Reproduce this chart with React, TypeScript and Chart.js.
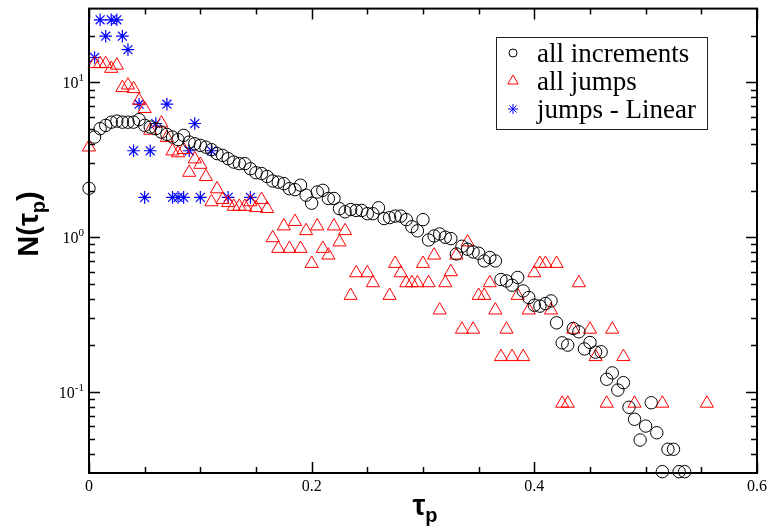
import React, { useEffect, useRef } from 'react';
import { Chart, registerables } from 'chart.js';

Chart.register(...registerables);

// ---------- axis settings ----------
const X_MIN = 0;
const X_MAX = 0.6;
const Y_MIN = 0.03;
const Y_MAX = 30;
const xMajorTicks = [0, 0.2, 0.4, 0.6];
const xTickLabels = ['0', '0.2', '0.4', '0.6'];
const xMinorTicks = [0.05, 0.1, 0.15, 0.25, 0.3, 0.35, 0.45, 0.5, 0.55];
const yMajorTicks = [0.1, 1, 10];
const yTickExponents = ['-1', '0', '1'];
const yMinorTicks = [
  0.04, 0.05, 0.06, 0.07, 0.08, 0.09,
  0.2, 0.3, 0.4, 0.5, 0.6, 0.7, 0.8, 0.9,
  2, 3, 4, 5, 6, 7, 8, 9, 20,
];

// ---------- series labels ----------
const seriesLabels = ['all increments', 'all jumps', 'jumps - Linear'];

// ---------- all increments (circles) ----------
const incX = [
  0, 0.005, 0.01, 0.015, 0.02, 0.025, 0.03, 0.035, 0.04, 0.045,
  0.05, 0.055, 0.06, 0.065, 0.07, 0.075, 0.08, 0.085, 0.09, 0.095,
  0.1, 0.105, 0.11, 0.115, 0.12, 0.125, 0.13, 0.135, 0.14, 0.145,
  0.15, 0.155, 0.16, 0.165, 0.17, 0.175, 0.18, 0.185, 0.19, 0.195,
  0.2, 0.205, 0.21, 0.215, 0.22, 0.225, 0.23, 0.235, 0.24, 0.245,
  0.25, 0.255, 0.26, 0.265, 0.27, 0.275, 0.28, 0.285, 0.29, 0.295,
  0.3, 0.305, 0.31, 0.315, 0.32, 0.325, 0.33, 0.335, 0.34, 0.345,
  0.35, 0.355, 0.36, 0.365, 0.37, 0.375, 0.38, 0.385, 0.39, 0.395,
  0.4, 0.405, 0.41, 0.415, 0.42, 0.425, 0.43, 0.435, 0.44, 0.445,
  0.45, 0.455, 0.46, 0.465, 0.47, 0.475, 0.48, 0.485, 0.49, 0.495,
  0.5, 0.505, 0.51, 0.515, 0.52, 0.525, 0.53, 0.535,
];
const incY = [
  2.07, 4.44, 5.03, 5.28, 5.54, 5.63, 5.54, 5.54, 5.54, 5.75,
  5.28, 5.15, 5.03, 4.78, 4.62, 4.44, 4.27, 4.55, 4.12, 4.02,
  3.92, 3.82, 3.68, 3.47, 3.38, 3.22, 3.06, 2.99, 2.99, 2.77,
  2.61, 2.58, 2.47, 2.31, 2.27, 2.22, 2.06, 2.03, 2.17, 1.87,
  1.66, 1.96, 2.01, 1.78, 1.78, 1.53, 1.46, 1.51, 1.49, 1.49,
  1.42, 1.42, 1.55, 1.32, 1.34, 1.37, 1.37, 1.3, 1.17, 1.1,
  1.3, 0.96, 1.02, 1.05, 1.0, 0.98, 0.78, 0.875, 0.837, 0.804,
  0.788, 0.703, 0.74, 0.703, 0.533, 0.522, 0.49, 0.55, 0.45, 0.408,
  0.364, 0.359, 0.373, 0.388, 0.28, 0.208, 0.201, 0.2575, 0.245, 0.19,
  0.209, 0.181, 0.182, 0.121, 0.133, 0.103, 0.115, 0.0797, 0.0667, 0.049,
  0.0603, 0.0853, 0.0546, 0.0306, 0.0427, 0.0427, 0.0306, 0.0306,
];

// ---------- all jumps (triangles) ----------
const jumpX = [
  0, 0.005, 0.01, 0.015, 0.02, 0.025, 0.03, 0.035, 0.04, 0.045, 0.05, 0.055,
  0.065, 0.07, 0.075, 0.08, 0.085, 0.09, 0.095, 0.1, 0.105, 0.11, 0.115, 0.12,
  0.125, 0.13, 0.135, 0.14, 0.145, 0.15, 0.155, 0.16, 0.165, 0.17, 0.175, 0.18,
  0.185, 0.19, 0.195, 0.2, 0.205, 0.21, 0.215, 0.22, 0.225, 0.23, 0.235, 0.24,
  0.25, 0.255,
  0.27, 0.275, 0.28, 0.285, 0.29, 0.295, 0.3, 0.305, 0.31, 0.315, 0.32, 0.325,
  0.33, 0.335, 0.34, 0.345, 0.35, 0.355, 0.36, 0.365, 0.37, 0.375, 0.38, 0.385,
  0.39, 0.395, 0.4, 0.405, 0.41, 0.415, 0.42, 0.425, 0.43, 0.435, 0.44,
  0.45, 0.455, 0.465, 0.47, 0.48, 0.49, 0.515, 0.555,
];
const jumpY = [
  3.82, 13.2, 13.2, 13.2, 12.3, 12.9, 9.24, 9.6, 9.1, 7.65, 6.77, 4.9,
  5.46, 4.4, 3.6, 3.5, 3.68, 2.62, 3.2, 2.95, 2.46, 1.69, 2.05, 1.75,
  1.67, 1.58, 1.58, 1.58, 1.69, 1.55, 1.75, 1.53, 0.99, 0.845, 1.18, 0.845,
  1.26, 0.845, 1.1, 0.676, 1.18, 0.845, 0.765, 1.18, 0.93, 1.1, 0.42, 0.588,
  0.588, 0.507,
  0.42, 0.676, 0.588, 0.507, 0.507, 0.507, 0.676, 0.507, 0.765, 0.338, 0.507, 0.597,
  0.765, 0.254, 0.93, 0.254, 0.42, 0.42, 0.507, 0.338, 0.169, 0.254, 0.169, 0.42,
  0.169, 0.338, 0.588, 0.676, 0.676, 0.338, 0.676, 0.0845, 0.0845, 0.254, 0.507,
  0.254, 0.169, 0.0845, 0.254, 0.169, 0.0845, 0.0845, 0.0845,
];

// ---------- jumps - Linear (stars) ----------
const linX = [
  0.005, 0.01, 0.015, 0.02, 0.025, 0.03, 0.035, 0.04, 0.045, 0.05, 0.055,
  0.06, 0.07, 0.075, 0.08, 0.085, 0.09, 0.095, 0.1, 0.11, 0.125, 0.145,
];
const linY = [
  14.5, 25.4, 19.9, 25.4, 25.4, 19.9, 16.3, 3.62, 7.24, 1.81, 3.62,
  5.43, 7.24, 1.81, 1.81, 1.81, 3.62, 5.43, 1.81, 3.62, 1.81, 1.81,
];

const COLORS = ['#000000', '#ff0000', '#0000ff'];
const STYLES = ['circle', 'triangle', 'star'];

const toPoints = (xs: number[], ys: number[]) => xs.map((x, i) => ({ x, y: ys[i] }));

function drawMarker(ctx: CanvasRenderingContext2D, style: string, x: number, y: number, r: number) {
  ctx.beginPath();
  if (style === 'circle') {
    ctx.arc(x, y, r, 0, Math.PI * 2);
  } else if (style === 'triangle') {
    for (let k = 0; k < 3; k++) {
      const a = (k * 2 * Math.PI) / 3;
      const px = x + Math.sin(a) * r;
      const py = y - Math.cos(a) * r;
      if (k === 0) ctx.moveTo(px, py);
      else ctx.lineTo(px, py);
    }
    ctx.closePath();
  } else {
    for (let k = 0; k < 4; k++) {
      const a = (k * Math.PI) / 4;
      ctx.moveTo(x - Math.cos(a) * r, y - Math.sin(a) * r);
      ctx.lineTo(x + Math.cos(a) * r, y + Math.sin(a) * r);
    }
  }
  ctx.stroke();
}

const decorPlugin = {
  id: 'decor',
  afterDatasetsDraw(chart: any) {
    const { ctx, chartArea: a } = chart;
    const xs = chart.scales.x;
    const ys = chart.scales.y;
    ctx.save();
    ctx.strokeStyle = '#000';
    ctx.fillStyle = '#000';

    // ticks (inward, mirrored)
    ctx.lineWidth = 1.5;
    ctx.beginPath();
    const xt = (v: number, len: number) => {
      const p = Math.round(xs.getPixelForValue(v)) + 0.5;
      ctx.moveTo(p, a.bottom);
      ctx.lineTo(p, a.bottom - len);
      ctx.moveTo(p, a.top);
      ctx.lineTo(p, a.top + len);
    };
    const yt = (v: number, len: number) => {
      const p = Math.round(ys.getPixelForValue(v)) + 0.5;
      ctx.moveTo(a.left, p);
      ctx.lineTo(a.left + len, p);
      ctx.moveTo(a.right, p);
      ctx.lineTo(a.right - len, p);
    };
    xMajorTicks.forEach((v) => xt(v, 11));
    xMinorTicks.forEach((v) => xt(v, 6));
    yMajorTicks.forEach((v) => yt(v, 11));
    yMinorTicks.forEach((v) => yt(v, 6));
    ctx.stroke();

    // frame
    ctx.lineWidth = 2;
    ctx.strokeRect(a.left, a.top, a.right - a.left, a.bottom - a.top);

    // x tick labels
    ctx.font = '16px "Liberation Serif"';
    ctx.textAlign = 'center';
    ctx.textBaseline = 'alphabetic';
    xMajorTicks.forEach((v, i) => {
      ctx.fillText(xTickLabels[i], xs.getPixelForValue(v), a.bottom + 18);
    });

    // y tick labels 10^n
    yMajorTicks.forEach((v, i) => {
      const p = ys.getPixelForValue(v);
      ctx.font = '11px "Liberation Serif"';
      const we = ctx.measureText(yTickExponents[i]).width;
      ctx.font = '16px "Liberation Serif"';
      const wb = ctx.measureText('10').width;
      const right = a.left - 5;
      ctx.textAlign = 'left';
      ctx.fillText('10', right - we - wb, p + 6);
      ctx.font = '11px "Liberation Serif"';
      ctx.fillText(yTickExponents[i], right - we, p - 1);
    });

    // y axis title N(τp)
    ctx.save();
    ctx.translate(38, 224);
    ctx.rotate(-Math.PI / 2);
    ctx.textAlign = 'left';
    const big = 'bold 29px "Liberation Sans"';
    const small = 'bold 20px "Liberation Sans"';
    ctx.font = big;
    const w1 = ctx.measureText('N(τ').width;
    const w3 = ctx.measureText(')').width;
    ctx.font = small;
    const w2 = ctx.measureText('p').width;
    let s = -(w1 + w2 + w3) / 2;
    ctx.font = big;
    ctx.fillText('N(τ', s, 0);
    ctx.font = small;
    ctx.fillText('p', s + w1, 7);
    ctx.font = big;
    ctx.fillText(')', s + w1 + w2, 0);
    ctx.restore();

    // x axis title τp
    ctx.textAlign = 'left';
    ctx.font = big;
    const wt = ctx.measureText('τ').width;
    ctx.font = small;
    const wp = ctx.measureText('p').width;
    const cx = (a.left + a.right) / 2 + 2;
    const sx = cx - (wt + wp) / 2;
    ctx.font = big;
    ctx.fillText('τ', sx, 515);
    ctx.font = small;
    ctx.fillText('p', sx + wt, 522);

    // legend
    const lx = 496.5, ly = 37.5, lw = 211, lh = 92;
    ctx.fillStyle = '#fff';
    ctx.fillRect(lx, ly, lw, lh);
    ctx.lineWidth = 1;
    ctx.strokeStyle = '#222';
    ctx.strokeRect(lx, ly, lw, lh);
    const rows = [53, 81, 109];
    const legR = [4, 6, 5];
    chart.data.datasets.forEach((ds: any, i: number) => {
      ctx.strokeStyle = ds.borderColor;
      ctx.lineWidth = 1;
      drawMarker(ctx, STYLES[i], 513, rows[i], legR[i]);
      ctx.fillStyle = '#000';
      ctx.font = '27px "Liberation Serif"';
      ctx.textAlign = 'left';
      ctx.fillText(ds.label, 537, rows[i] + 8.5);
    });
    ctx.restore();
  },
};

export default function App() {
  const ref = useRef<HTMLCanvasElement>(null);
  useEffect(() => {
    if (!ref.current) return;
    const chart = new Chart(ref.current, {
      type: 'scatter',
      data: {
        datasets: [
          {
            label: seriesLabels[0],
            data: toPoints(incX, incY),
            pointStyle: 'circle',
            pointRadius: 6.2,
            borderColor: COLORS[0],
            backgroundColor: 'rgba(0,0,0,0)',
            borderWidth: 1,
            clip: false,
          },
          {
            label: seriesLabels[1],
            data: toPoints(jumpX, jumpY),
            pointStyle: 'triangle',
            pointRadius: 7.6,
            borderColor: COLORS[1],
            backgroundColor: 'rgba(0,0,0,0)',
            borderWidth: 1,
            clip: false,
          },
          {
            label: seriesLabels[2],
            data: toPoints(linX, linY),
            pointStyle: 'star',
            pointRadius: 6.3,
            borderColor: COLORS[2],
            backgroundColor: 'rgba(0,0,0,0)',
            borderWidth: 1.2,
            clip: false,
          },
        ],
      },
      options: {
        animation: false,
        responsive: false,
        devicePixelRatio: 1,
        events: [],
        layout: { padding: { top: 8, right: 14, left: 0, bottom: 0 } },
        plugins: { legend: { display: false }, tooltip: { enabled: false } },
        scales: {
          x: {
            type: 'linear',
            min: X_MIN,
            max: X_MAX,
            grid: { display: false },
            border: { display: false },
            ticks: { display: false },
            afterFit: (s: any) => {
              s.height = 56;
            },
          },
          y: {
            type: 'logarithmic',
            min: Y_MIN,
            max: Y_MAX,
            grid: { display: false },
            border: { display: false },
            ticks: { display: false },
            afterFit: (s: any) => {
              s.width = 89;
            },
          },
        },
      },
      plugins: [decorPlugin],
    });
    return () => chart.destroy();
  }, []);
  return (
    <div style={{ position: 'fixed', left: 0, top: 0, width: 771, height: 529, background: '#fff' }}>
      <canvas ref={ref} width={771} height={529} style={{ display: 'block' }} />
    </div>
  );
}
